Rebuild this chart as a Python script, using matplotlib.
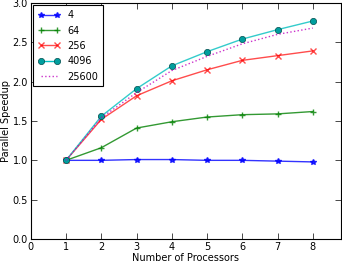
import matplotlib

matplotlib.use("Agg")

import matplotlib.pyplot as plt

processors = [1, 2, 3, 4, 5, 6, 7, 8]
labels = ["4", "64", "256", "4096", "25600"]
speedup_4 = [1.0, 1.0, 1.01, 1.01, 1.0, 1.0, 0.99, 0.98]
speedup_64 = [1.0, 1.16, 1.41, 1.49, 1.55, 1.58, 1.59, 1.62]
speedup_256 = [1.0, 1.52, 1.82, 2.01, 2.15, 2.27, 2.33, 2.39]
speedup_4096 = [1.0, 1.56, 1.91, 2.20, 2.38, 2.54, 2.66, 2.77]
speedup_25600 = [1.0, 1.54, 1.86, 2.14, 2.32, 2.48, 2.60, 2.68]

plt.rcParams["font.family"] = "DejaVu Sans"
plt.rcParams["font.size"] = 7

fig = plt.figure(figsize=(3.42, 2.63), dpi=100)
ax = fig.add_axes([0.09, 0.091, 0.907, 0.898])

ax.plot(processors, speedup_4, "-*", color=(0, 0, 1), lw=1, ms=4, alpha=0.8, label=labels[0])
ax.plot(processors, speedup_64, "-+", color=(0, 0.5, 0), lw=1, ms=4, alpha=0.8, label=labels[1])
ax.plot(processors, speedup_256, "-x", color=(1, 0, 0), lw=1, ms=4, alpha=0.7, label=labels[2])
ax.plot(processors, speedup_4096, "-", color=(0, 0.75, 0.75), lw=1, alpha=0.8)
ax.plot(processors, speedup_4096, "o", color=(0, 0.62, 0.62), mec=(0, 0.3, 0.3),
        mew=0.5, ms=4.5)
ax.plot([], [], "-o", color=(0, 0.75, 0.75), mfc=(0, 0.62, 0.62), mec=(0, 0.3, 0.3),
        mew=0.5, ms=4.5, lw=1, label=labels[3])
ax.plot(processors, speedup_25600, ":", color=(0.75, 0, 0.75), lw=1, alpha=0.8, label=labels[4])

ax.set_xlim(0, 8.8)
ax.set_ylim(0, 3.0)
ax.set_xticks(range(0, 9))
ax.set_yticks([0.0, 0.5, 1.0, 1.5, 2.0, 2.5, 3.0])
ax.set_yticklabels(["0.0", "0.5", "1.0", "1.5", "2.0", "2.5", "3.0"])
ax.tick_params(direction="in", top=True, right=True, length=4, width=0.5, labelsize=7, pad=2)
for s in ax.spines.values():
    s.set_linewidth(0.8)

ax.set_xlabel("Number of Processors", fontsize=7, labelpad=1)
ax.set_ylabel("Parallel Speedup", fontsize=7, labelpad=1)

leg = ax.legend(loc="upper left", fontsize=7, fancybox=False, framealpha=1, numpoints=2,
                edgecolor="black", borderaxespad=0.25, handlelength=2.2, labelspacing=0.55,
                borderpad=0.5)
leg.get_frame().set_linewidth(0.8)

fig.savefig("out.png", dpi=100)
